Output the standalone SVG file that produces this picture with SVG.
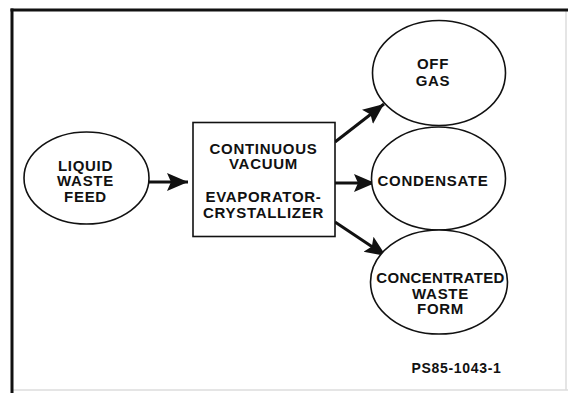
<svg xmlns="http://www.w3.org/2000/svg" width="568" height="393" viewBox="0 0 568 393">
  <style>
    .node { fill: #ffffff; stroke: #111111; stroke-width: 1.6; }
    .lbl { font-family: "Liberation Sans", Arial, sans-serif; font-weight: bold; font-size: 15px; letter-spacing: 0.7px; fill: #111111; text-anchor: middle; }
    .conn { stroke: #111111; stroke-width: 3; fill: none; }
    .frame { stroke: #111111; stroke-width: 3; fill: none; }
    .faint { stroke: #dddddd; stroke-width: 1.5; fill: none; }
  </style>
  <defs>
    <marker id="arrow" markerUnits="userSpaceOnUse" markerWidth="22" markerHeight="20" refX="21" refY="10" orient="auto">
      <path d="M0,1 L21,10 L0,19 L4,10 z" fill="#111111"/>
    </marker>
  </defs>
  <rect x="0" y="0" width="568" height="393" fill="#ffffff"/>
  <g id="frame">
    <line class="faint" x1="12" y1="390" x2="568" y2="390"/>
    <line class="faint" x1="566" y1="10" x2="566" y2="390"/>
    <line class="frame" x1="10.5" y1="10" x2="568" y2="10"/>
    <line class="frame" x1="12" y1="8.5" x2="12" y2="393"/>
  </g>
  <g id="connectors">
    <line class="conn" x1="149" y1="182" x2="188" y2="182" marker-end="url(#arrow)"/>
    <line class="conn" x1="335" y1="142" x2="384" y2="104" marker-end="url(#arrow)"/>
    <line class="conn" x1="335" y1="183" x2="375" y2="183" marker-end="url(#arrow)"/>
    <line class="conn" x1="335" y1="222" x2="386" y2="256" marker-end="url(#arrow)"/>
  </g>
  <g id="liquid-waste-feed">
    <ellipse class="node" cx="86.5" cy="178" rx="62.5" ry="46"/>
    <text class="lbl" x="85.5" y="170.5">LIQUID</text>
    <text class="lbl" x="85.5" y="186">WASTE</text>
    <text class="lbl" x="85.5" y="201.5">FEED</text>
  </g>
  <g id="evaporator">
    <rect class="node" x="193" y="122.5" width="142" height="114"/>
    <text class="lbl" x="263.5" y="153.5">CONTINUOUS</text>
    <text class="lbl" x="263.5" y="169">VACUUM</text>
    <text class="lbl" x="263.5" y="202">EVAPORATOR-</text>
    <text class="lbl" x="263.5" y="217.5">CRYSTALLIZER</text>
  </g>
  <g id="off-gas">
    <ellipse class="node" cx="439" cy="73" rx="66.5" ry="52.5"/>
    <text class="lbl" x="433" y="69">OFF</text>
    <text class="lbl" x="433" y="85.5">GAS</text>
  </g>
  <g id="condensate">
    <ellipse class="node" cx="438.5" cy="178.5" rx="67" ry="51.5"/>
    <text class="lbl" x="433" y="186">CONDENSATE</text>
  </g>
  <g id="concentrated-waste-form">
    <ellipse class="node" cx="439" cy="282" rx="68.5" ry="52"/>
    <text class="lbl" x="440.5" y="283" style="letter-spacing:0.3px">CONCENTRATED</text>
    <text class="lbl" x="440.5" y="298.5">WASTE</text>
    <text class="lbl" x="440.5" y="314">FORM</text>
  </g>
  <text class="lbl" x="456.5" y="372.5" style="font-size:14px">PS85-1043-1</text>
</svg>
